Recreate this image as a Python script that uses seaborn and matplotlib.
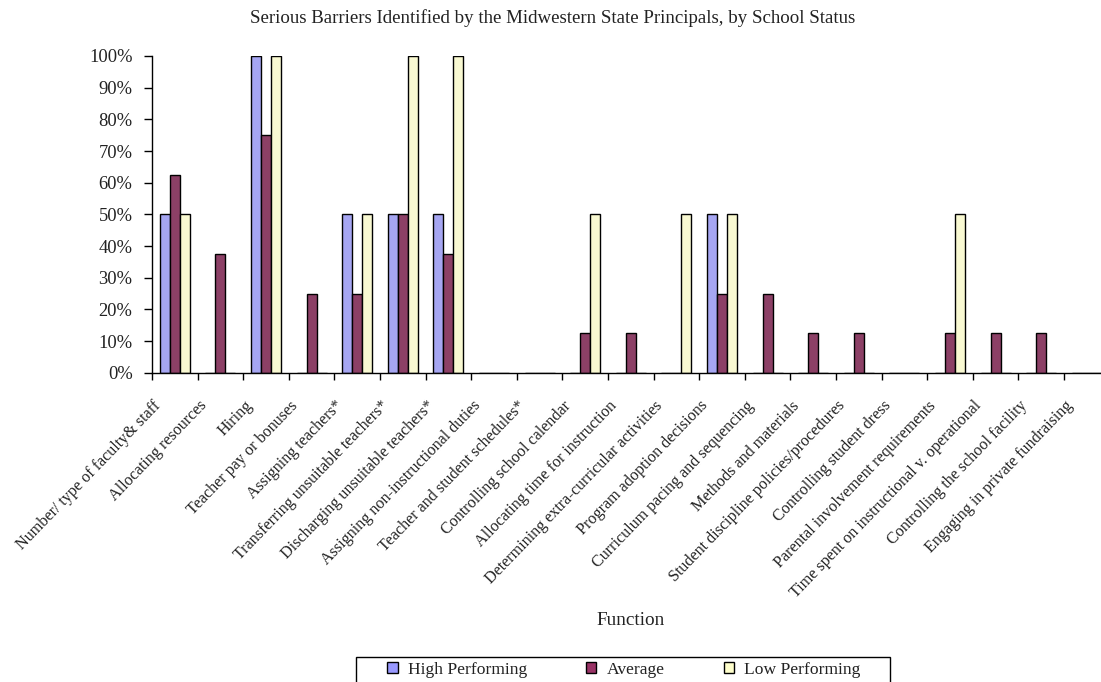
import matplotlib
matplotlib.use("Agg")
import matplotlib.pyplot as plt
from matplotlib.ticker import FixedLocator, PercentFormatter
from matplotlib.transforms import ScaledTranslation
import pandas as pd
import seaborn as sns

functions = [
    "Number/ type of faculty& staff", "Allocating resources", "Hiring",
    "Teacher pay or bonuses", "Assigning teachers*",
    "Transferring unsuitable teachers*", "Discharging unsuitable teachers*",
    "Assigning non-instructional duties", "Teacher and student schedules*",
    "Controlling school calendar", "Allocating time for instruction",
    "Determining extra-curricular activities", "Program adoption decisions",
    "Curriculum pacing and sequencing", "Methods and materials",
    "Student discipline policies/procedures", "Controlling student dress",
    "Parental involvement requirements",
    "Time spent on instructional v. operational",
    "Controlling the school facility", "Engaging in private fundraising",
]
high_performing = [50, 0, 100, 0, 50, 50, 50, 0, 0, 0, 0, 0, 50, 0, 0, 0, 0, 0, 0, 0, 0]
average = [62.5, 37.5, 75, 25, 25, 50, 37.5, 0, 0, 12.5, 12.5, 0, 25, 25, 12.5, 12.5, 0, 12.5, 12.5, 12.5, 0]
low_performing = [50, 0, 100, 0, 50, 100, 100, 0, 0, 50, 0, 50, 50, 0, 0, 0, 0, 50, 0, 0, 0]
status = ["High Performing", "Average", "Low Performing"]
colors = ["#9999FF", "#993366", "#FFFFCC"]

df = pd.DataFrame({
    "Function": functions * 3,
    "Status": [s for s in status for _ in functions],
    "Value": high_performing + average + low_performing,
})

sns.set_theme(style="white")
plt.rcParams["font.family"] = ["Liberation Serif", "DejaVu Serif"]
text_color = "#222222"

fig = plt.figure(figsize=(11.01, 6.82), dpi=100)
# plot area runs a little past the right edge, like the cropped original
ax = fig.add_axes([152 / 1101, 309.3 / 682, 957.6 / 1101, 316.7 / 682])

sns.barplot(data=df, x="Function", y="Value", hue="Status", palette=colors,
            width=0.66, edgecolor="black", linewidth=1, ax=ax, legend=False)

ax.set_ylim(0, 100)
ax.set_xlim(-0.5, len(functions) - 0.5)
ax.yaxis.set_major_locator(FixedLocator(range(0, 101, 10)))
ax.yaxis.set_major_formatter(PercentFormatter(decimals=0))
ax.tick_params(axis="y", direction="out", length=6, width=1, color="black",
               left=True, labelsize=13.3, pad=8, labelcolor=text_color)

# tick marks sit between categories, labels at centers
ax.xaxis.set_minor_locator(FixedLocator([i - 0.5 for i in range(len(functions) + 1)]))
ax.tick_params(axis="x", which="minor", direction="out", length=5, width=1,
               color="black", bottom=True)
ax.tick_params(axis="x", which="major", length=0, pad=8, labelsize=11.6,
               labelcolor=text_color)
shift = ScaledTranslation(-0.22, -0.14, fig.dpi_scale_trans)
for lab in ax.get_xticklabels():
    lab.set_rotation(46)
    lab.set_ha("right")
    lab.set_va("top")
    lab.set_rotation_mode("anchor")
    lab.set_transform(lab.get_transform() + shift)

for side in ["top", "right"]:
    ax.spines[side].set_visible(False)
for side in ["left", "bottom"]:
    ax.spines[side].set_color("black")
    ax.spines[side].set_linewidth(1)

ax.set_xlabel("Function", fontsize=13.9, color=text_color)
ax.xaxis.set_label_coords(0.5, -0.755)
ax.set_ylabel("")

fig.suptitle("Serious Barriers Identified by the Midwestern State Principals, by School Status",
             x=553 / 1101, y=1 - 18 / 682, va="center", fontsize=13.6, color=text_color)

# legend box, cut by the bottom edge as in the original
fig.add_artist(plt.Rectangle((356 / 1101, -0.02), (890 - 356) / 1101, 0.02 + 25 / 682,
                             transform=fig.transFigure, facecolor="white",
                             edgecolor="black", linewidth=1))
handles = [plt.Rectangle((0, 0), 1, 1, facecolor=c, edgecolor="black", linewidth=1)
           for c in colors]
fig.legend(handles, status, loc="upper left", ncol=3,
           bbox_to_anchor=(387 / 1101, 1 - 662 / 682), frameon=False,
           fontsize=12.6, handlelength=0.6, handleheight=0.6,
           columnspacing=3.35, handletextpad=0.6, borderpad=0, borderaxespad=0,
           labelcolor=text_color)

fig.savefig("out.png", dpi=100)
